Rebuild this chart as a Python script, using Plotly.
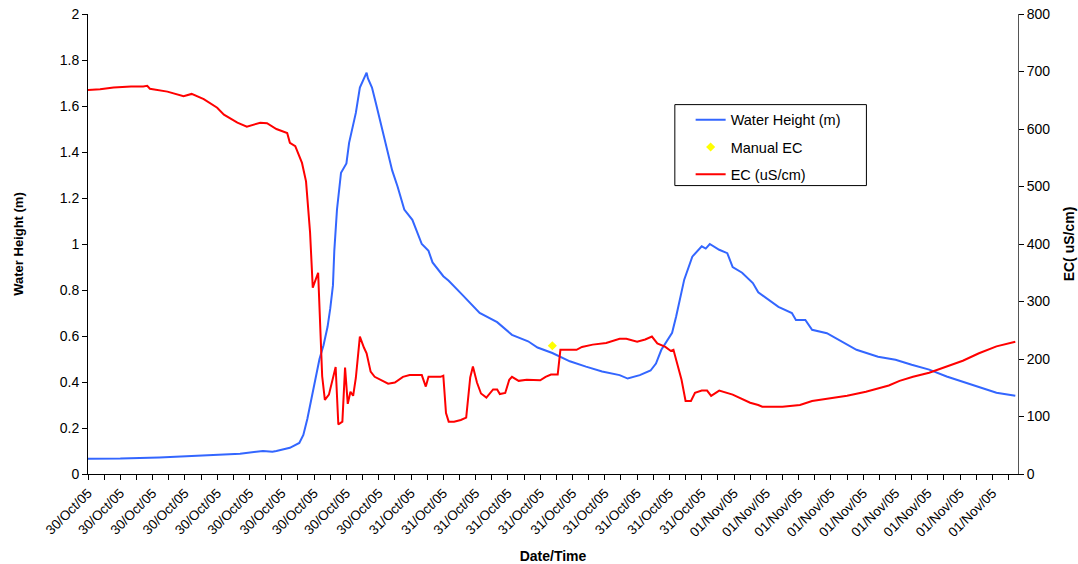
import pandas as pd
import plotly.graph_objects as go

# Hours after 30/Oct/05 00:00 and water height (m)
wh_hours = [0.0, 2.4, 5.3, 8.3, 11.3, 13.0, 13.7, 14.0, 15.0, 15.7, 16.0, 16.3, 16.6, 16.9, 17.2,
            17.5, 17.8, 18.0, 18.2, 18.3, 18.5, 18.8, 19.2, 19.4, 19.9, 20.2, 20.5, 20.7, 20.8,
            21.1, 21.4, 21.9, 22.6, 23.0, 23.5, 24.1, 24.8, 25.3, 25.6, 26.4, 26.8, 27.8, 29.1,
            30.4, 31.5, 32.7, 33.4, 34.5, 35.8, 37.0, 38.2, 39.5, 40.1, 41.0, 41.8, 42.2, 42.6,
            43.4, 43.7, 44.3, 44.9, 45.6, 45.9, 46.2, 46.9, 47.5, 47.9, 48.6, 49.4, 49.8, 50.8,
            51.3, 52.3, 52.6, 53.3, 53.8, 54.9, 55.8, 57.1, 58.7, 60.0, 61.2, 62.5, 63.8, 65.0,
            66.2, 67.5, 68.9]
wh_values = [0.066, 0.067, 0.072, 0.080, 0.088, 0.100, 0.097, 0.100, 0.114, 0.135, 0.17, 0.24,
             0.33, 0.42, 0.50, 0.56, 0.64, 0.72, 0.82, 0.97, 1.15, 1.31, 1.35, 1.44, 1.57, 1.68,
             1.72, 1.745, 1.72, 1.68, 1.61, 1.49, 1.32, 1.25, 1.15, 1.105, 1.0, 0.97, 0.92, 0.86,
             0.84, 0.78, 0.70, 0.66, 0.605, 0.577, 0.55, 0.526, 0.49, 0.467, 0.446, 0.43, 0.415,
             0.43, 0.45, 0.48, 0.54, 0.614, 0.685, 0.845, 0.945, 0.99, 0.98, 1.0, 0.975, 0.96,
             0.90, 0.875, 0.83, 0.79, 0.75, 0.727, 0.70, 0.67, 0.67, 0.627, 0.612, 0.584, 0.54,
             0.51, 0.497, 0.475, 0.454, 0.424, 0.40, 0.376, 0.353, 0.34]

# Hours after 30/Oct/05 00:00 and EC (uS/cm)
ec_hours = [0.0, 0.9, 1.9, 3.2, 4.1, 4.4, 4.6, 5.9, 7.1, 7.7, 8.6, 9.6, 10.1, 11.1, 11.8, 12.8,
            13.3, 14.0, 14.8, 15.0, 15.4, 15.9, 16.2, 16.5, 16.7, 17.1, 17.4, 17.6, 17.9, 18.4,
            18.6, 18.9, 19.1, 19.3, 19.5, 19.7, 19.9, 20.2, 20.5, 20.7, 21.0, 21.3, 22.3, 22.8,
            23.4, 23.9, 24.8, 25.1, 25.3, 26.2, 26.4, 26.6, 26.8, 27.2, 27.7, 28.1, 28.4, 28.6,
            28.9, 29.2, 29.6, 30.1, 30.4, 30.6, 31.0, 31.3, 31.5, 32.0, 32.6, 33.4, 33.6, 34.0,
            34.4, 34.9, 35.1, 35.5, 36.3, 36.7, 37.5, 38.5, 39.5, 40.0, 40.8, 41.4, 41.9, 42.3,
            42.9, 43.3, 43.5, 44.1, 44.4, 44.8, 45.1, 45.6, 46.0, 46.3, 46.9, 47.9, 49.2, 49.8,
            50.1, 51.6, 52.9, 53.8, 55.1, 56.4, 57.8, 58.8, 59.5, 60.3, 61.3, 62.5, 63.8, 65.0,
            66.2, 67.5, 68.9]
ec_values = [668, 669, 672, 674, 674, 675, 670, 665, 657, 661, 652, 637, 625, 611, 604, 611,
             610, 600, 593, 576, 570, 541, 509, 420, 324, 350, 170, 129, 138, 186,
             86, 91, 185, 122, 143, 136, 167, 239, 220, 210, 178, 169, 157, 159,
             169, 172, 172, 152, 169, 169, 171, 106, 91, 91, 94, 98, 168, 187,
             159, 140, 133, 147, 147, 139, 141, 164, 169, 162, 164, 164, 163, 169,
             173, 173, 216, 216, 216, 221, 225, 228, 235, 235, 230, 234, 239, 227,
             221, 214, 216, 164, 127, 127, 141, 145, 145, 136, 145, 138, 124, 120,
             117, 117, 120, 127, 132, 136, 143, 150, 154, 162, 169, 176, 187, 197,
             210, 222, 230]

# Manual EC sample
manual_hours = [34.5]
manual_values = [223]

start = pd.Timestamp("2005-10-30 00:00")
wh_x = start + pd.to_timedelta(wh_hours, unit="h")
ec_x = start + pd.to_timedelta(ec_hours, unit="h")
man_x = start + pd.to_timedelta(manual_hours, unit="h")

FONT = "Liberation Sans, Arial, sans-serif"

fig = go.Figure()
fig.add_trace(go.Scatter(x=wh_x, y=wh_values, mode="lines", name="Water Height (m)",
                         line=dict(color="#3366FF", width=2), legendgroup="a"))
fig.add_trace(go.Scatter(x=man_x, y=manual_values, mode="markers", name="Manual EC",
                         marker=dict(color="#FFFF00", size=7, symbol="diamond"),
                         yaxis="y2", legendgroup="b"))
fig.add_trace(go.Scatter(x=ec_x, y=ec_values, mode="lines", name="EC (uS/cm)",
                         line=dict(color="#FF0000", width=2), yaxis="y2", legendgroup="c"))

fig.update_layout(
    width=1078, height=564,
    margin=dict(l=88, r=60, t=14, b=90, autoexpand=False),
    paper_bgcolor="white", plot_bgcolor="white",
    font=dict(family=FONT, size=13, color="black"),
    showlegend=True,
    legend=dict(x=0.648, y=0.805, xanchor="left", yanchor="top",
                borderwidth=0, bgcolor="rgba(0,0,0,0)",
                font=dict(size=14.5), tracegroupgap=5.5, itemwidth=30),
    shapes=[dict(type="rect", xref="paper", yref="paper",
                 x0=0.631, x1=0.837, y0=0.627, y1=0.803,
                 line=dict(color="black", width=1), fillcolor="rgba(0,0,0,0)", layer="above")],
    xaxis=dict(
        type="date", automargin=False,
        range=[start, start + pd.Timedelta(hours=69.1)],
        tick0=start, dtick=144 * 60 * 1000,
        tickformat="%d/%b/%y", tickangle=-45,
        ticks="outside", ticklen=5, tickcolor="black",
        minor=dict(dtick=72 * 60 * 1000, tick0=start, ticks="outside", ticklen=5, tickcolor="black"),
        showline=True, linecolor="black", linewidth=1,
        showgrid=False, zeroline=False,
        tickfont=dict(size=13.5),
        title=dict(text="<b>Date/Time</b>", font=dict(size=14), standoff=14),
    ),
    yaxis=dict(
        range=[0, 2], dtick=0.2, automargin=False,
        ticks="outside", ticklen=5, tickcolor="black",
        showline=True, linecolor="black", linewidth=1,
        showgrid=False, zeroline=False,
        tickfont=dict(size=14),
        title=dict(text="<b>Water Height (m)</b>", font=dict(size=13), standoff=33),
    ),
    yaxis2=dict(
        range=[0, 800], dtick=100, overlaying="y", side="right", automargin=False,
        ticks="outside", ticklen=5, tickcolor="black",
        showline=True, linecolor="#555", linewidth=1,
        showgrid=False, zeroline=False,
        tickfont=dict(size=14),
        title=dict(text="<b>EC( uS/cm)</b>", font=dict(size=14), standoff=14),
    ),
)

fig.write_html("out.html")
